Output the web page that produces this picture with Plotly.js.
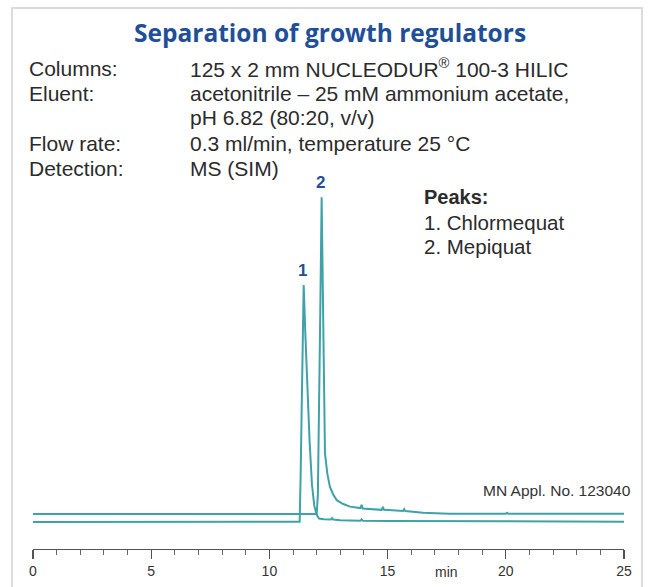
<!DOCTYPE html>
<html>
<head>
<meta charset="utf-8">
<script src="https://cdn.plot.ly/plotly-3.0.1.min.js"></script>
<style>
html,body{margin:0;padding:0;background:#fff;}
#chart{width:649px;height:587px;}
</style>
</head>
<body>
<div id="chart"></div>
<script>
// Retention time (min) and detector signal (arbitrary units, traces offset as in the figure)
const chlormequatTime = [0, 5, 11.0, 11.28, 11.32, 11.38, 11.45, 11.52, 11.6, 11.7, 11.8, 11.9, 12.0, 12.1, 12.3, 12.6, 12.65, 12.7, 13.0, 13.85, 13.9, 13.95, 15.0, 20.0, 25.0];
const chlormequatSignal = [7.5, 7.5, 7.5, 7.6, 20, 50, 73.5, 60, 45, 30, 18, 12, 9.5, 8.5, 8.3, 8.2, 8.6, 8.2, 8.0, 7.9, 8.3, 7.9, 7.8, 7.6, 7.6];

const mepiquatTime = [0, 5, 10, 12.0, 12.05, 12.1, 12.15, 12.21, 12.26, 12.3, 12.35, 12.45, 12.56, 12.7, 12.85, 13.1, 13.41, 13.85, 13.9, 13.95, 14.3, 14.75, 14.8, 14.85, 15.2, 15.65, 15.7, 15.75, 16.5, 17.6, 20.0, 20.05, 20.1, 25.0];
const mepiquatSignal = [9.75, 9.75, 9.75, 9.75, 15, 35, 65, 98, 70, 45, 26.7, 21, 17.3, 15.2, 13.6, 12.6, 11.8, 11.4, 12.3, 11.3, 11.1, 10.9, 11.7, 10.9, 10.8, 10.6, 11.1, 10.6, 10.1, 9.8, 9.8, 10.1, 9.8, 9.8];

const peakLabels = ["1", "2"];
const legendTitle = "Peaks:";
const legendItems = ["1. Chlormequat", "2. Mepiquat"];
const titleText = "Separation of growth regulators";
const conditionLabels = ["Columns:", "Eluent:", "", "Flow rate:", "Detection:"];
const conditionValues = ["125 x 2 mm NUCLEODUR<sup>®</sup> 100-3 HILIC", "acetonitrile – 25 mM ammonium acetate,", "pH 6.82 (80:20, v/v)", "0.3 ml/min, temperature 25 °C", "MS (SIM)"];
const tickValues = [0, 5, 10, 15, 20, 25];
const tickLabels = ["0", "5", "10", "15", "20", "25"];
const unitLabel = "min";
const noteText = "MN Appl. No. 123040";

// layout geometry (pixels)
const W = 649, H = 587;
const L = 33, R = 25, T = 190, B = 38;
const pw = W - L - R, ph = H - T - B;
const px = x => (x - L) / pw;
const py = y => (H - B - y) / ph;

const lineColor = "#3fa2a8";
const blue = "#1f4f98";
const txt = "#2b2b2b";
const sans = "Liberation Sans, Arial, sans-serif";

const traces = [
  {x: chlormequatTime, y: chlormequatSignal, type: "scatter", mode: "lines",
   line: {color: lineColor, width: 2}, hoverinfo: "skip", name: "Chlormequat"},
  {x: mepiquatTime, y: mepiquatSignal, type: "scatter", mode: "lines",
   line: {color: lineColor, width: 2}, hoverinfo: "skip", name: "Mepiquat"}
];

const ann = [];
ann.push({text: titleText, xref: "paper", yref: "paper", x: px(330), y: py(33),
  xanchor: "center", yanchor: "middle", showarrow: false,
  font: {family: "Open Sans, sans-serif", size: 24.5, color: blue, weight: 700}});
const rowY = [68, 93, 118, 143, 168];
for (let i = 0; i < rowY.length; i++) {
  if (conditionLabels[i]) ann.push({text: conditionLabels[i], xref: "paper", yref: "paper",
    x: px(27), y: py(rowY[i]), xanchor: "left", yanchor: "middle", showarrow: false,
    font: {family: sans, size: 21, color: txt}});
  ann.push({text: conditionValues[i], xref: "paper", yref: "paper",
    x: px(188), y: py(rowY[i]), xanchor: "left", yanchor: "middle", showarrow: false,
    font: {family: sans, size: 21, color: txt}});
}
ann.push({text: "<b>" + legendTitle + "</b>", xref: "paper", yref: "paper", x: px(422), y: py(197),
  xanchor: "left", yanchor: "middle", showarrow: false, font: {family: sans, size: 20, color: txt}});
legendItems.forEach((t, i) => ann.push({text: t, xref: "paper", yref: "paper", x: px(422), y: py(222 + 24 * i),
  xanchor: "left", yanchor: "middle", showarrow: false, font: {family: sans, size: 20.5, color: txt}}));
ann.push({text: noteText, xref: "paper", yref: "paper", x: px(633), y: py(490),
  xanchor: "right", yanchor: "middle", showarrow: false, font: {family: sans, size: 15.5, color: "#333"}});
ann.push({text: unitLabel, xref: "paper", yref: "paper", x: px(446), y: py(572),
  xanchor: "center", yanchor: "middle", showarrow: false, font: {family: sans, size: 14, color: "#333"}});
// peak number labels, positioned at the peak apex
const apex1 = chlormequatSignal.indexOf(Math.max(...chlormequatSignal));
const apex2 = mepiquatSignal.indexOf(Math.max(...mepiquatSignal));
[[chlormequatTime[apex1], chlormequatSignal[apex1]], [mepiquatTime[apex2], mepiquatSignal[apex2]]].forEach((p, i) =>
  ann.push({text: "<b>" + peakLabels[i] + "</b>", x: p[0] - 0.03, y: p[1], xref: "x", yref: "y",
    xanchor: "center", yanchor: "bottom", yshift: 3, showarrow: false,
    font: {family: sans, size: 17, color: blue}}));

const layout = {
  width: W, height: H,
  margin: {l: L, r: R, t: T, b: B, pad: 0},
  paper_bgcolor: "#ffffff", plot_bgcolor: "rgba(0,0,0,0)",
  showlegend: false,
  xaxis: {range: [0, 25], showgrid: false, zeroline: false, showline: true,
    linecolor: "#555", linewidth: 1.2, ticks: "outside", ticklen: 9, tickwidth: 1.2, tickcolor: "#555",
    tickvals: tickValues, ticktext: tickLabels, tickfont: {family: sans, size: 14, color: "#333"},
    minor: {dtick: 1, tick0: 0, ticks: "outside", ticklen: 5, tickwidth: 1, tickcolor: "#666", showgrid: false},
    fixedrange: true},
  yaxis: {range: [0, 100], visible: false, fixedrange: true},
  annotations: ann,
  shapes: [{type: "rect", xref: "paper", yref: "paper",
    x0: px(12), x1: px(642), y0: py(600), y1: py(8),
    line: {color: "#dcdcdc", width: 2}, fillcolor: "rgba(0,0,0,0)", layer: "below"}]
};

Plotly.newPlot("chart", traces, layout, {staticPlot: true, displayModeBar: false});
</script>
</body>
</html>
